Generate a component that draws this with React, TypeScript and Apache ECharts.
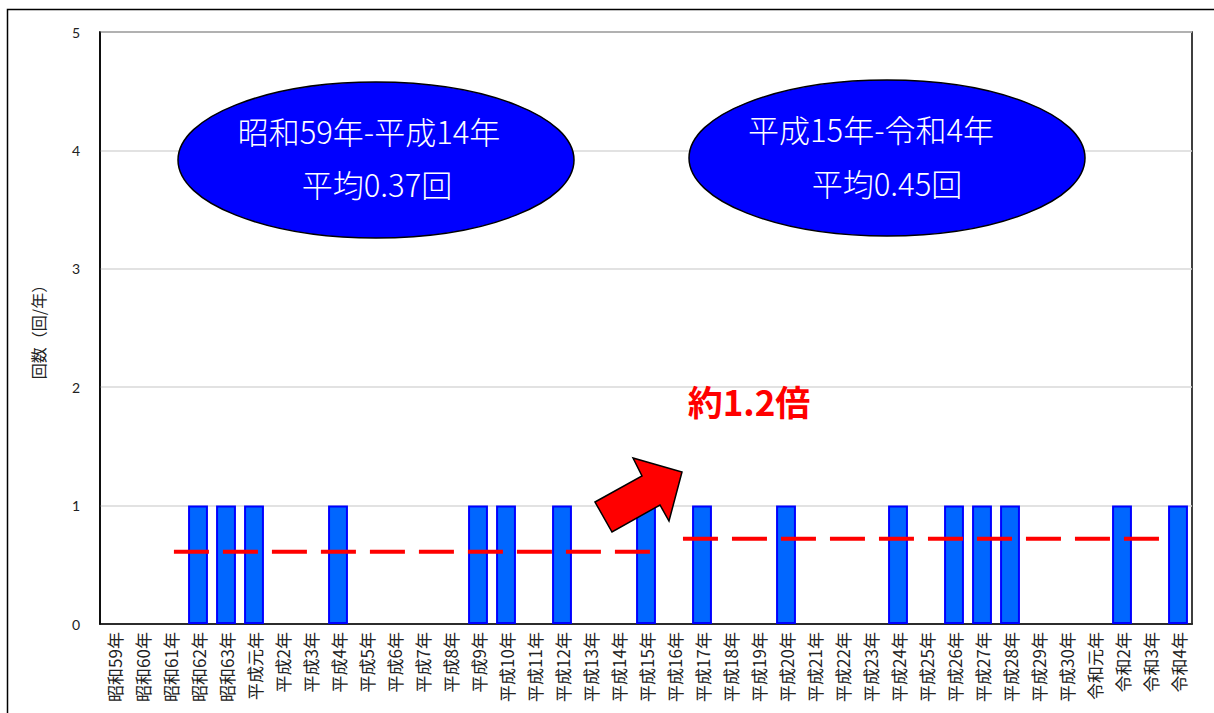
import React, { useEffect, useRef } from "react";
import * as echarts from "echarts";

const categories = [
  "昭和59年", "昭和60年", "昭和61年", "昭和62年", "昭和63年",
  "平成元年", "平成2年", "平成3年", "平成4年", "平成5年", "平成6年", "平成7年", "平成8年",
  "平成9年", "平成10年", "平成11年", "平成12年", "平成13年", "平成14年", "平成15年",
  "平成16年", "平成17年", "平成18年", "平成19年", "平成20年", "平成21年", "平成22年",
  "平成23年", "平成24年", "平成25年", "平成26年", "平成27年", "平成28年", "平成29年",
  "平成30年", "令和元年", "令和2年", "令和3年", "令和4年",
];

const counts = [
  0, 0, 0, 1, 1,
  1, 0, 0, 1, 0, 0, 0, 0,
  1, 1, 0, 1, 0, 0, 1,
  0, 1, 0, 0, 1, 0, 0,
  0, 1, 0, 1, 1, 1, 0,
  0, 0, 1, 0, 1,
];

// average lines (x in category units, y in 回/年 as drawn)
const avgLine1X = [2.64, 19.75];
const avgLine1Y = 0.61;
const avgLine2X = [20.82, 37.93];
const avgLine2Y = 0.72;

const yTicks = [0, 1, 2, 3, 4, 5];

const period1Label = ["昭和59年-平成14年", "平均0.37回"];
const period2Label = ["平成15年-令和4年", "平均0.45回"];
const ratioLabel = "約1.2倍";

const FONT = "'Noto Sans CJK JP', 'Noto Sans', sans-serif";

export default function App() {
  const ref = useRef<HTMLDivElement>(null);
  useEffect(() => {
    if (!ref.current) return;
    const chart = echarts.init(ref.current, undefined, { renderer: "svg" });
    const ellipseText = (lines: string[], cx: number, y1: number, y2: number, dx1: number, dx2: number) => [
      {
        type: "text",
        x: cx + dx1,
        y: y1,
        z: 20,
        style: { text: lines[0], fill: "#fff", font: `300 31px ${FONT}`, textAlign: "center", textVerticalAlign: "middle" },
      },
      {
        type: "text",
        x: cx + dx2,
        y: y2,
        z: 20,
        style: { text: lines[1], fill: "#fff", font: `300 31px ${FONT}`, textAlign: "center", textVerticalAlign: "middle" },
      },
    ];
    chart.setOption({
      animation: false,
      backgroundColor: "#fff",
      textStyle: { fontFamily: FONT },
      grid: {
        left: 100,
        top: 32,
        right: 22,
        bottom: 89,
        show: true,
        borderColor: "#000",
        borderWidth: 1.5,
        backgroundColor: "transparent",
      },
      xAxis: [
        {
          type: "category",
          data: categories,
          axisLine: { lineStyle: { color: "#000", width: 1.5 } },
          axisTick: { inside: true, length: 4, lineStyle: { color: "#000" } },
          axisLabel: { rotate: 90, fontSize: 17, color: "#222", margin: 8, interval: 0, fontFamily: FONT },
          splitLine: { show: false },
        },
        {
          type: "value",
          min: 0,
          max: categories.length,
          show: false,
        },
      ],
      yAxis: {
        type: "value",
        min: yTicks[0],
        max: yTicks[yTicks.length - 1],
        interval: 1,
        name: "回数（回/年）",
        nameLocation: "middle",
        nameGap: 54,
        nameRotate: 90,
        nameTextStyle: { fontSize: 16, color: "#222", fontFamily: FONT },
        axisLine: { show: true, lineStyle: { color: "#000", width: 1.5 } },
        axisTick: { show: false },
        axisLabel: { fontSize: 14, color: "#222", margin: 20, fontFamily: "Lato, 'Noto Sans', sans-serif" },
        splitLine: { show: true, lineStyle: { color: "#d9d9d9", width: 1.5 } },
      },
      series: [
        {
          type: "bar",
          data: counts.map((v) => (v === 0 ? null : v)),
          barCategoryGap: "29%",
          itemStyle: { color: "#0066ff", borderColor: "#0000ff", borderWidth: 2 },
          z: 2,
        },
        {
          type: "line",
          xAxisIndex: 1,
          data: avgLine1X.map((x) => [x, avgLine1Y]),
          symbol: "none",
          lineStyle: { color: "#ff0000", width: 4, type: [35, 14] },
          z: 3,
        },
        {
          type: "line",
          xAxisIndex: 1,
          data: avgLine2X.map((x) => [x, avgLine2Y]),
          symbol: "none",
          lineStyle: { color: "#ff0000", width: 4, type: [35, 14] },
          z: 3,
        },
      ],
      graphic: [
        {
          type: "rect",
          shape: { x: 7.5, y: 9.5, width: 1230, height: 740 },
          style: { fill: "none", stroke: "#000", lineWidth: 1.5 },
          z: 1,
          silent: true,
        },
        {
          type: "ellipse",
          shape: { cx: 376, cy: 160, rx: 198, ry: 78 },
          style: { fill: "#0000ff", stroke: "#000", lineWidth: 1.5 },
          z: 10,
        },
        ...ellipseText(period1Label, 376, 130, 183, -7, 1),
        {
          type: "ellipse",
          shape: { cx: 887, cy: 158, rx: 198, ry: 78 },
          style: { fill: "#0000ff", stroke: "#000", lineWidth: 1.5 },
          z: 10,
        },
        ...ellipseText(period2Label, 887, 128, 182, -16, 0),
        {
          type: "polygon",
          shape: {
            points: [
              [595, 502],
              [642, 476],
              [633, 458],
              [682, 472],
              [669, 521],
              [660, 505],
              [612, 532],
            ],
          },
          style: { fill: "#ff0000", stroke: "#000", lineWidth: 1.5 },
          z: 15,
        },
        {
          type: "text",
          x: 749,
          y: 400,
          z: 20,
          style: {
            text: ratioLabel,
            fill: "#ff0000",
            font: `bold 35px ${FONT}`,
            textAlign: "center",
            textVerticalAlign: "middle",
          },
        },
      ],
    });
    return () => chart.dispose();
  }, []);
  return (
    <div
      ref={ref}
      style={{ position: "fixed", left: 0, top: 0, width: 1214, height: 713, background: "#fff" }}
    />
  );
}
